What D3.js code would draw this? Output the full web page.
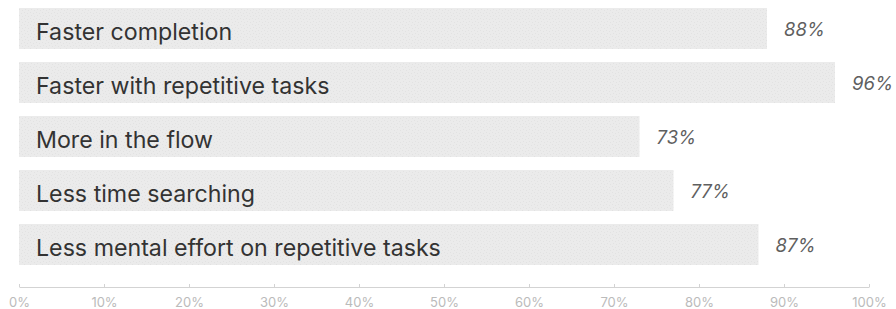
<!DOCTYPE html>
<html>
<head>
<meta charset="utf-8">
<script src="https://cdn.jsdelivr.net/npm/d3@7"></script>
<style>
html,body{margin:0;padding:0;background:#fff;}
svg{display:block;}
</style>
</head>
<body>
<svg id="chart" width="896" height="309"></svg>
<script>
const categories = ["Faster completion","Faster with repetitive tasks","More in the flow","Less time searching","Less mental effort on repetitive tasks"];
const values = [88, 96, 73, 77, 87];
const tickValues = [0,10,20,30,40,50,60,70,80,90,100];

const svg = d3.select("#chart");
const x = d3.scaleLinear().domain([0,100]).range([19,869]);
const y = d3.scaleBand().domain(categories).range([8,265]).paddingInner(13/54).paddingOuter(0);

const defs = svg.append("defs");
const pat = defs.append("pattern").attr("id","tex").attr("patternUnits","userSpaceOnUse").attr("width",6).attr("height",6);
pat.append("rect").attr("width",6).attr("height",6).attr("fill","#ebebeb");
pat.append("rect").attr("x",0).attr("y",0).attr("width",1).attr("height",1).attr("fill","#e2e2e2");
pat.append("rect").attr("x",3).attr("y",1).attr("width",1).attr("height",1).attr("fill","#e2e2e2");
pat.append("rect").attr("x",1).attr("y",3).attr("width",1).attr("height",1).attr("fill","#e2e2e2");
pat.append("rect").attr("x",4).attr("y",4).attr("width",1).attr("height",1).attr("fill","#e2e2e2");

const data = categories.map((c,i)=>({c, v: values[i]}));

svg.selectAll("rect.bar").data(data).join("rect").attr("class","bar")
  .attr("x", x(0)).attr("y", d=>y(d.c))
  .attr("width", d=>x(d.v)-x(0)).attr("height", y.bandwidth())
  .attr("fill","url(#tex)");

svg.selectAll("text.lab").data(data).join("text").attr("class","lab")
  .attr("x", 36).attr("y", d=>y(d.c)+y.bandwidth()*0.78)
  .attr("font-family","Inter, 'Liberation Sans', sans-serif")
  .attr("font-size",23.2).attr("fill","#333")
  .text(d=>d.c);

svg.selectAll("text.val").data(data).join("text").attr("class","val")
  .attr("x", d=>x(d.v)+17).attr("y", d=>y(d.c)+y.bandwidth()*0.69)
  .attr("font-family","Inter, 'Liberation Sans', sans-serif")
  .attr("font-style","italic")
  .attr("font-size",18.5).attr("fill","#5f5f5f")
  .text(d=>d.v+"%");

const axis = d3.axisTop(x).tickValues(tickValues).tickFormat(d=>d+"%").tickSize(3).tickSizeOuter(0);
const ag = svg.append("g").attr("transform","translate(0,287)").call(axis);
ag.select(".domain").attr("stroke","#d3d3d3");
ag.selectAll(".tick line").attr("stroke","#d3d3d3");
ag.selectAll(".tick text").attr("y",20).attr("dy",0)
  .attr("font-family","Inter, 'Liberation Sans', sans-serif")
  .attr("font-size",13).attr("fill","#bbb");
</script>
</body>
</html>
